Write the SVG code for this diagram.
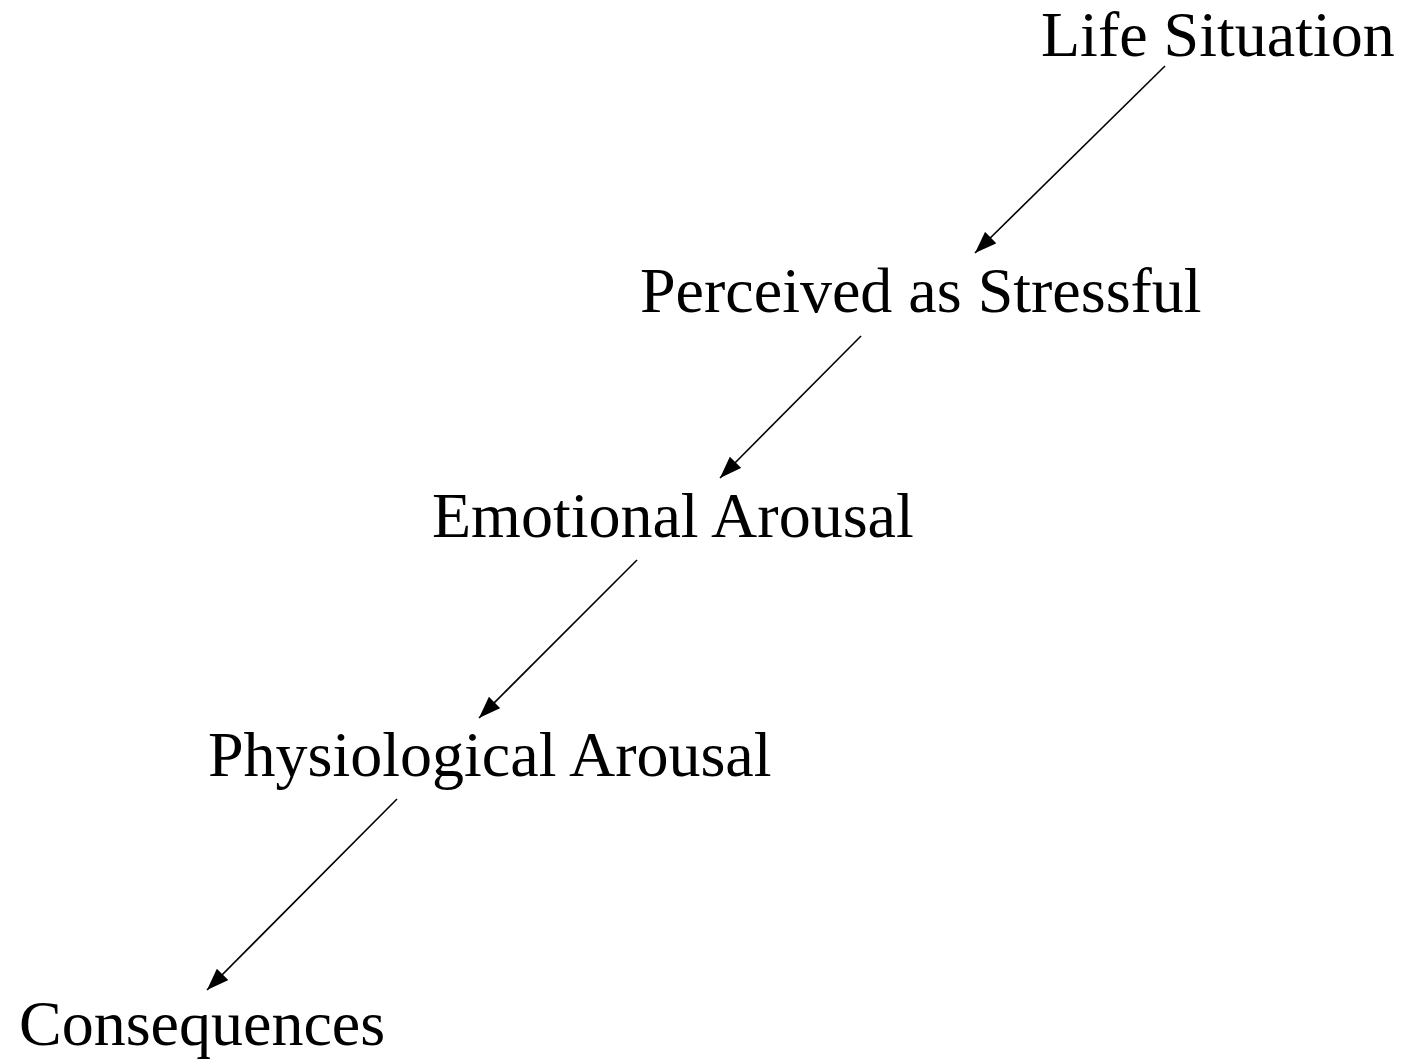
<svg xmlns="http://www.w3.org/2000/svg" width="1404" height="1061" viewBox="0 0 1404 1061">
<style>
text{font-family:"Liberation Serif","Times New Roman",serif;font-size:64px;fill:#000}
.c line{stroke:#000;stroke-width:1.6;fill:none}
</style>
<defs>
<marker id="ah" viewBox="0 0 22 16" refX="22" refY="8" markerWidth="22" markerHeight="16" markerUnits="userSpaceOnUse" orient="auto">
<path d="M0,0 L22,8 L0,16 Z" fill="#000"/>
</marker>
</defs>
<rect width="1404" height="1061" fill="#fff"/>
<g id="n1"><text x="1041" y="56">Life Situation</text></g>
<g id="n2"><text x="640" y="312">Perceived as Stressful</text></g>
<g id="n3"><text x="432" y="537">Emotional Arousal</text></g>
<g id="n4"><text x="208" y="776">Physiological Arousal</text></g>
<g id="n5"><text x="19" y="1045">Consequences</text></g>
<g class="c" id="connectors">
<line x1="1165" y1="66" x2="975" y2="253" marker-end="url(#ah)"/>
<line x1="861" y1="336" x2="720" y2="478" marker-end="url(#ah)"/>
<line x1="637" y1="560" x2="479" y2="718" marker-end="url(#ah)"/>
<line x1="397" y1="799" x2="207" y2="990" marker-end="url(#ah)"/>
</g>
</svg>
